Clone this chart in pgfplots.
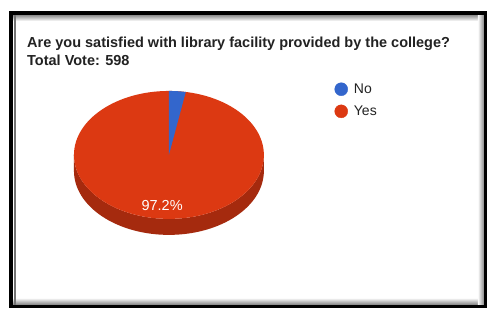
\documentclass[border=0pt]{standalone}
\usepackage{pgfplots}
\pgfplotsset{compat=1.18}
\usepackage{pgfplotstable}
\usepackage{fontspec}
\setmainfont{Liberation Sans}
\definecolor{gblue}{HTML}{3366CC}
\definecolor{gred}{HTML}{DC3912}
\definecolor{gside}{HTML}{A52A0E}
\definecolor{txt}{HTML}{222222}

\pgfplotstableread{
label votes
No 17
Yes 581
}\votes

\begin{document}
\begin{tikzpicture}
\pgfplotstablegetelem{0}{votes}\of\votes \let\vNo\pgfplotsretval
\pgfplotstablegetelem{1}{votes}\of\votes \let\vYes\pgfplotsretval
\pgfmathtruncatemacro\total{\vNo+\vYes}
\pgfmathsetmacro\aNo{\vNo/\total*360}
\pgfmathsetmacro\aEnd{90-\aNo}
\pgfmathsetmacro\pYes{\vYes/\total*100}
\pgfmathsetmacro\midA{\aEnd-(360-\aNo)/2}
\def\cx{169}\def\cy{155}\def\rx{95}\def\ry{64}\def\dep{16}
\begin{axis}[
 width=487pt, height=310pt, scale only axis,
 xmin=0,xmax=487,ymin=0,ymax=310,
 hide axis, clip=false,
 legend style={at={(axis cs:334.5,228.5)}, anchor=north west, draw=none, fill=none,
   font=\fontsize{14}{16}\selectfont, row sep=7pt, inner sep=0pt, text=txt},
 legend cell align=left,
 legend image code/.code={\fill[#1] (0pt,0pt) circle (6.5pt); \path (10.5pt,0pt);},
]
\fill[white] (axis cs:0,0) rectangle (axis cs:487,310);
% inner shadows
\shade[top color=black!45, bottom color=white] (axis cs:13,295) rectangle (axis cs:484,289);
\shade[top color=white, bottom color=black!50] (axis cs:13,12) rectangle (axis cs:484,5);
\shade[left color=white, right color=black!45] (axis cs:478,5) rectangle (axis cs:484,295);
\draw[black!55, line width=1.5pt] (axis cs:15,5) -- (axis cs:15,295);
\draw[black, line width=3.5pt] (axis cs:11,297) rectangle (axis cs:485.5,3.5);
% title
\node[anchor=base west, font=\bfseries\fontsize{14.5}{16}\selectfont, text=txt, inner sep=0pt]
  at (axis cs:27,262) {Are you satisfied with library facility provided by the college?};
\node[anchor=base west, font=\bfseries\fontsize{14.5}{16}\selectfont, text=txt, inner sep=0pt]
  at (axis cs:27,244) {Total Vote: \total};
% pie side
\fill[gside] (axis cs:{\cx-\rx},\cy) -- (axis cs:{\cx-\rx},{\cy-\dep})
  arc[start angle=180, end angle=360, x radius=\rx pt, y radius=\ry pt]
  -- (axis cs:{\cx+\rx},\cy)
  arc[start angle=0, end angle=-180, x radius=\rx pt, y radius=\ry pt] -- cycle;
% pie top
\fill[gred] (axis cs:\cx,\cy) ellipse[x radius=\rx pt, y radius=\ry pt];
\fill[gblue] (axis cs:\cx,\cy) -- (axis cs:\cx,{\cy+\ry})
  arc[start angle=90, end angle=\aEnd, x radius=\rx pt, y radius=\ry pt] -- cycle;
\node[text=white, font=\fontsize{14.5}{16}\selectfont]
  at (axis cs:{\cx+0.8*\rx*cos(\midA)},{\cy+0.8*\ry*sin(\midA)})
  {\pgfmathprintnumber[fixed,precision=1,assume math mode=true]{\pYes}\%};
\addlegendimage{gblue}
\addlegendentry{No}
\addlegendimage{gred}
\addlegendentry{Yes}
\end{axis}
\end{tikzpicture}
\end{document}
